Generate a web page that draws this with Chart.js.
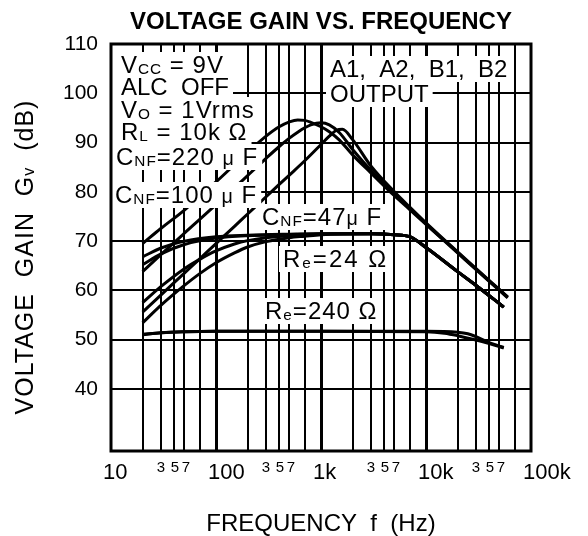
<!DOCTYPE html>
<html>
<head>
<meta charset="utf-8">
<script src="https://cdn.jsdelivr.net/npm/chart.js@4.4.1/dist/chart.umd.min.js"></script>
<style>
  html, body { margin: 0; padding: 0; background: #fff; }
  #wrap { width: 588px; height: 536px; }
</style>
</head>
<body>
<div id="wrap"><canvas id="gain" width="588" height="536"></canvas></div>
<script>
// axis ticks
const yTickValues = [40, 50, 60, 70, 80, 90, 100, 110];
const xGridValues = [20, 30, 40, 50, 70, 100, 200, 300, 400, 500, 700, 1000, 2000, 3000, 4000, 5000, 7000,
  10000, 20000, 30000, 40000, 50000, 70000];
const xMajorValues = [10, 100, 1000, 10000, 100000];
const xMajorLabels = ["10", "100", "1k", "10k", "100k"];
const xMinorLabels = ["3", "5", "7"];

// peaked curves (CNF = 220 / 100 / 47 uF)
const p220Freq = [20, 30, 50, 70, 100, 150, 200, 300, 400, 500, 600, 700, 800, 1000, 1200, 1500, 2000, 3000, 5000, 7000, 10000, 20000, 30000, 50000, 60000];
const p220Gain = [69.5, 72.6, 76.3, 79.1, 82.0, 85.5, 88.0, 91.3, 93.2, 94.2, 94.6, 94.5, 94.1, 93.2, 92.2, 90.5, 87.5, 83.8, 79.2, 76.4, 73.4, 67.6, 64.2, 60.0, 58.5];
const p100Freq = [20, 30, 50, 70, 100, 150, 200, 300, 400, 500, 600, 700, 800, 1000, 1200, 1500, 2000, 3000, 5000, 7000, 10000, 20000, 30000, 50000, 60000];
const p100Gain = [63.8, 67.3, 71.6, 74.4, 77.4, 80.8, 83.3, 86.8, 89.2, 90.9, 92.1, 93.0, 93.6, 94.0, 93.6, 92.0, 88.6, 84.3, 79.5, 76.6, 73.5, 67.7, 64.3, 60.1, 58.6];
const p47Freq = [20, 30, 50, 70, 100, 150, 200, 300, 400, 500, 700, 1000, 1200, 1400, 1600, 2000, 3000, 5000, 7000, 10000, 20000, 30000, 50000, 60000];
const p47Gain = [55.6, 59.1, 63.5, 66.4, 69.5, 73.0, 75.5, 79.0, 81.5, 83.4, 86.3, 89.6, 91.3, 92.5, 92.7, 90.6, 85.2, 80.0, 76.9, 73.7, 67.8, 64.4, 60.2, 58.7];

// Re = 24 ohm curves
const r24aFreq = [20, 30, 50, 100, 200, 500, 1000, 3000, 5000, 7000, 10000, 20000, 30000, 50000, 55000];
const r24aGain = [66.8, 68.6, 70.0, 70.9, 71.2, 71.4, 71.5, 71.5, 71.3, 70.9, 68.7, 63.8, 61.0, 57.3, 56.6];
const r24bFreq = [20, 30, 50, 100, 200, 500, 1000, 3000, 5000, 7000, 10000, 20000, 30000, 50000, 55000];
const r24bGain = [65.2, 67.4, 69.3, 70.6, 71.1, 71.3, 71.5, 71.5, 71.3, 70.9, 68.7, 63.8, 61.0, 57.3, 56.6];
const r24cFreq = [20, 30, 50, 70, 100, 150, 200, 300, 500, 1000, 3000, 5000, 7000, 10000, 20000, 30000, 50000, 55000];
const r24cGain = [57.5, 60.8, 64.4, 66.3, 68.0, 69.4, 70.1, 70.7, 71.1, 71.4, 71.5, 71.3, 70.9, 68.7, 63.8, 61.0, 57.3, 56.6];
const r24dFreq = [20, 30, 50, 70, 100, 150, 200, 300, 500, 700, 1000, 3000, 5000, 7000, 10000, 20000, 30000, 50000, 55000];
const r24dGain = [53.4, 57.0, 61.0, 63.4, 65.6, 67.6, 68.8, 69.9, 70.7, 71.0, 71.3, 71.5, 71.3, 70.9, 68.7, 63.8, 61.0, 57.3, 56.6];

// Re = 240 ohm curves
const r240aFreq = [20, 30, 50, 100, 1000, 10000, 15000, 20000, 30000, 40000, 50000, 55000];
const r240aGain = [51.0, 51.4, 51.6, 51.7, 51.7, 51.6, 51.3, 50.8, 49.9, 49.2, 48.6, 48.3];
const r240bFreq = [20, 30, 50, 100, 1000, 10000, 20000, 25000, 30000, 40000, 50000, 55000];
const r240bGain = [51.1, 51.4, 51.6, 51.7, 51.7, 51.7, 51.5, 51.2, 50.6, 49.4, 48.7, 48.4];

// annotation texts: [text, kind]  kind: "" normal, "s" subscript, "m" small
const noteVcc = [["V", ""], ["CC", "s"], [" = 9V", ""]];
const noteAlc = [["ALC  OFF", ""]];
const noteVo = [["V", ""], ["O", "s"], [" = 1Vrms", ""]];
const noteRl = [["R", ""], ["L", "s"], [" = 10k Ω", ""]];
const noteC220 = [["C", ""], ["NF", "s"], ["=220 ", ""], ["μ", "m"], [" F", ""]];
const noteC100 = [["C", ""], ["NF", "s"], ["=100 ", ""], ["μ", "m"], [" F", ""]];
const noteC47 = [["C", ""], ["NF", "s"], ["=47", ""], ["μ", "m"], [" F", ""]];
const noteRe24 = [["R", ""], ["e", "s"], ["=24 Ω", ""]];
const noteRe240 = [["R", ""], ["e", "s"], ["=240 Ω", ""]];
const noteOut1 = [["A1,  A2,  B1,  B2", ""]];
const noteOut2 = [["OUTPUT", ""]];

const FONT = '"Liberation Sans", Arial, Helvetica, sans-serif';

function series(freq, gain) {
  return {
    data: freq.map((f, i) => ({ x: f, y: gain[i] })),
    borderColor: "#000",
    borderWidth: 3,
    pointRadius: 0,
    cubicInterpolationMode: "monotone",
    fill: false,
  };
}

function drawRich(ctx, parts, x, y, size, ls, draw) {
  let cx = x;
  ctx.letterSpacing = ls + "px";
  for (const [t, k] of parts) {
    const s = k === "s" ? size * 0.64 : k === "m" ? size * 0.82 : size;
    ctx.font = s + "px " + FONT;
    if (draw) ctx.fillText(t, cx, y + (k === "s" ? 1 : 0));
    cx += ctx.measureText(t).width;
  }
  ctx.letterSpacing = "0px";
  return cx - x;
}

// where each note sits (pixel coords) and its letter spacing
const noteLayout = [
  [noteVcc, 121, 73, 1], [noteAlc, 121, 95, 0], [noteVo, 121, 118, 1], [noteRl, 121, 140, 1],
  [noteC220, 116, 165, 1], [noteC100, 115, 203, 1], [noteC47, 262, 225, 1],
  [noteRe24, 283, 267, 2], [noteRe240, 265, 319, 1],
  [noteOut1, 330, 77, 0], [noteOut2, 330, 102, 0],
];

const decor = {
  id: "decor",
  beforeDraw(chart) {
    const ctx = chart.ctx;
    ctx.save();
    ctx.fillStyle = "#fff";
    ctx.fillRect(0, 0, chart.width, chart.height);
    ctx.restore();
  },
  afterDatasetsDraw(chart) {
    const { ctx, chartArea: a, scales } = chart;
    const xs = scales.x, ys = scales.y;
    ctx.save();
    ctx.textBaseline = "alphabetic";
    ctx.textAlign = "left";
    // note boxes hide the grid and curves behind them
    for (const [parts, x, y, ls] of noteLayout) {
      const w = drawRich(ctx, parts, x, y, 24, ls, false);
      let left = x - 4;
      if (left - a.left < 12) left = a.left;
      ctx.fillStyle = "#fff";
      ctx.fillRect(left, y - 21, x + w + 4 - left, 26);
    }
    ctx.fillStyle = "#000";
    for (const [parts, x, y, ls] of noteLayout) drawRich(ctx, parts, x, y, 24, ls, true);

    // frame
    ctx.strokeStyle = "#000";
    ctx.lineWidth = 3;
    ctx.strokeRect(a.left, a.top, a.right - a.left, a.bottom - a.top);

    // y tick labels
    ctx.font = "21px " + FONT;
    ctx.textAlign = "right";
    ctx.textBaseline = "middle";
    for (const v of yTickValues) ctx.fillText(String(v), 98, ys.getPixelForValue(v));

    // x tick labels
    ctx.textAlign = "left";
    ctx.textBaseline = "alphabetic";
    ctx.font = "22px " + FONT;
    xMajorValues.forEach((v, i) => ctx.fillText(xMajorLabels[i], xs.getPixelForValue(v) - 8, 479));
    ctx.font = "15px " + FONT;
    ctx.textAlign = "center";
    const minorOffsets = [50, 64, 75];
    for (const d of xMajorValues.slice(0, -1)) {
      const px = xs.getPixelForValue(d);
      xMinorLabels.forEach((t, i) => ctx.fillText(t, px + minorOffsets[i], 472));
    }

    // titles
    ctx.textAlign = "center";
    ctx.font = "bold 24px " + FONT;
    ctx.fillText("VOLTAGE GAIN VS. FREQUENCY", 321, 29);
    ctx.font = "24px " + FONT;
    ctx.fillText("FREQUENCY  f  (Hz)", 321, 531);

    ctx.translate(33, 257);
    ctx.rotate(-Math.PI / 2);
    ctx.textAlign = "left";
    const yTitle = [["VOLTAGE  GAIN  G", ""], ["v", "s"], ["  (dB)", ""]];
    const w = drawRich(ctx, yTitle, 0, 0, 25, 1, false);
    drawRich(ctx, yTitle, -w / 2, 0, 25, 1, true);
    ctx.restore();
  },
};

new Chart(document.getElementById("gain"), {
  type: "line",
  data: {
    datasets: [
      series(p220Freq, p220Gain),
      series(p100Freq, p100Gain),
      series(p47Freq, p47Gain),
      series(r24aFreq, r24aGain),
      series(r24bFreq, r24bGain),
      series(r24cFreq, r24cGain),
      series(r24dFreq, r24dGain),
      series(r240aFreq, r240aGain),
      series(r240bFreq, r240bGain),
    ],
  },
  options: {
    responsive: false,
    animation: false,
    devicePixelRatio: 1,
    layout: { padding: { left: 111, right: 57, top: 44, bottom: 85 } },
    plugins: { legend: { display: false }, tooltip: { enabled: false } },
    scales: {
      x: {
        type: "logarithmic",
        min: 10,
        max: 100000,
        afterBuildTicks: (s) => { s.ticks = xGridValues.map((v) => ({ value: v })); },
        ticks: { display: false },
        border: { display: false },
        grid: {
          color: "#000",
          drawTicks: false,
          lineWidth: (c) => (Number.isInteger(Math.log10(c.tick.value)) ? 3 : 2),
        },
      },
      y: {
        type: "linear",
        min: 27.4,
        max: 110,
        afterBuildTicks: (s) => { s.ticks = yTickValues.slice(0, -1).map((v) => ({ value: v })); },
        ticks: { display: false },
        border: { display: false },
        grid: { color: "#000", drawTicks: false, lineWidth: 2 },
      },
    },
  },
  plugins: [decor],
});
</script>
</body>
</html>
